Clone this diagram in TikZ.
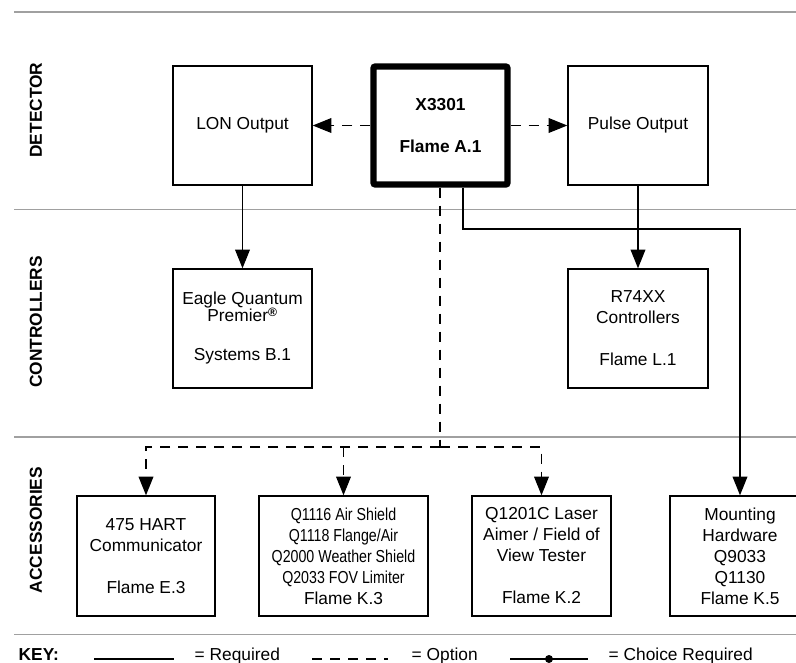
\documentclass[tikz,border=0pt]{standalone}
\usepackage{fontspec}
\setmainfont{Liberation Sans}
\newfontfamily\narrowfont[FakeStretch=0.82]{Liberation Sans}
\usepackage{tikz}
\usetikzlibrary{arrows.meta, positioning}

\definecolor{secgray}{RGB}{160,160,160}
\newcommand\boxfont{\fontsize{13}{15.75}\selectfont}

\tikzset{
  unitbox/.style={draw, line width=1pt, inner sep=0pt, align=center,
    minimum width=104.25pt, minimum height=89.25pt, font=\boxfont},
  mainbox/.style={unitbox, line width=4.8pt, rounded corners=1.5pt,
    minimum width=100.5pt, minimum height=88.5pt, font=\boxfont\bfseries},
  sectlabel/.style={rotate=90, font=\boxfont\bfseries},
  reqline/.style={line width=1pt},
  optline/.style={line width=1pt, dash pattern=on 7.5pt off 6pt},
  flowarrow/.style={-{Triangle[length=14pt,width=11pt]}},
  secline/.style={secgray, line width=1pt},
  keytext/.style={anchor=base west, font=\boxfont},
}

\begin{document}
\begin{tikzpicture}[x=0.75pt, y=-0.75pt]
    \useasboundingbox (0,0) rectangle (796,662);
    \clip (0,0) rectangle (796,662);

    \foreach \sy in {12,209.5,437,634.5}
        \draw[secline] (14,\sy) -- (796,\sy);

    \node[sectlabel] (detlbl) at (36,110) {DETECTOR};
    \node[sectlabel] (ctrllbl) at (36,322) {CONTROLLERS};
    \node[sectlabel] (acclbl) at (36,530) {ACCESSORIES};

    \node[unitbox] (lon) at (242.5,125.5) {LON Output};
    \node[mainbox] (x3301) at (440.5,125.5) {X3301\\[15.75pt]Flame A.1};
    \node[unitbox, minimum width=105pt] (pulse) at (638,125.5) {Pulse Output};

    \node[unitbox] (eagle) at (242.5,328.5)
        {Eagle Quantum\\[-3pt]Premier\textsuperscript{\bfseries\textregistered}\\[13.5pt]Systems B.1};
    \node[unitbox, minimum width=105pt] (r74) at (638,328.5)
        {R74XX\\Controllers\\[15.75pt]Flame L.1};

    \node[unitbox, minimum width=103.5pt, minimum height=90pt] (hart) at (146,556)
        {475 HART\\Communicator\\[15.75pt]Flame E.3};
    \node[unitbox, minimum width=126.75pt, minimum height=90pt, font=\boxfont\narrowfont] (shield) at (343.5,556)
        {Q1116 Air Shield\\Q1118 Flange/Air\\Q2000 Weather Shield\\Q2033 FOV Limiter\\\rmfamily Flame K.3};
    \node[unitbox, minimum height=90pt] (laser) at (541.5,556)
        {Q1201C Laser\\Aimer / Field of\\View Tester\\[15.75pt]Flame K.2};
    \node[unitbox, minimum width=105pt, minimum height=90pt] (mount) at (740,556)
        {Mounting\\Hardware\\Q9033\\Q1130\\Flame K.5};

    \draw[optline, flowarrow] (x3301.west) -- (lon.east);
    \draw[optline, flowarrow] (x3301.east) -- (pulse.west);
    \draw[reqline, flowarrow] (lon) -- (eagle);
    \draw[reqline, flowarrow] (pulse) -- (r74);

    \coordinate (obus) at (440,447);
    \draw[optline] (x3301.south -| obus) -- (obus);
    \draw[optline, flowarrow] (obus) -| (hart.north);
    \draw[optline, flowarrow] (obus) -| (laser.north);
    \draw[optline, flowarrow] (shield.north |- obus) -- (shield.north);

    \coordinate (mbend) at (463,229);
    \draw[reqline, flowarrow] (x3301.south -| mbend) -- (mbend) -| (mount.north);

    \node[keytext, font=\boxfont\bfseries] (keylbl) at (14,660) {KEY:};
    \coordinate (reqa) at (94,659);
    \coordinate (reqb) at (174,659);
    \draw[reqline] (reqa) -- (reqb);
    \node[keytext] (reqtxt) at (190,660) {= Required};
    \coordinate (opta) at (312,659);
    \coordinate (optb) at (388,659);
    \draw[optline] (opta) -- (optb);
    \node[keytext] (opttxt) at (407,660) {= Option};
    \coordinate (cha) at (510,659);
    \coordinate (chb) at (588,659);
    \coordinate (chdot) at (549,659);
    \draw[reqline] (cha) -- (chb);
    \fill (chdot) circle (3pt);
    \node[keytext] (chtxt) at (604,660) {= Choice Required};
\end{tikzpicture}
\end{document}
